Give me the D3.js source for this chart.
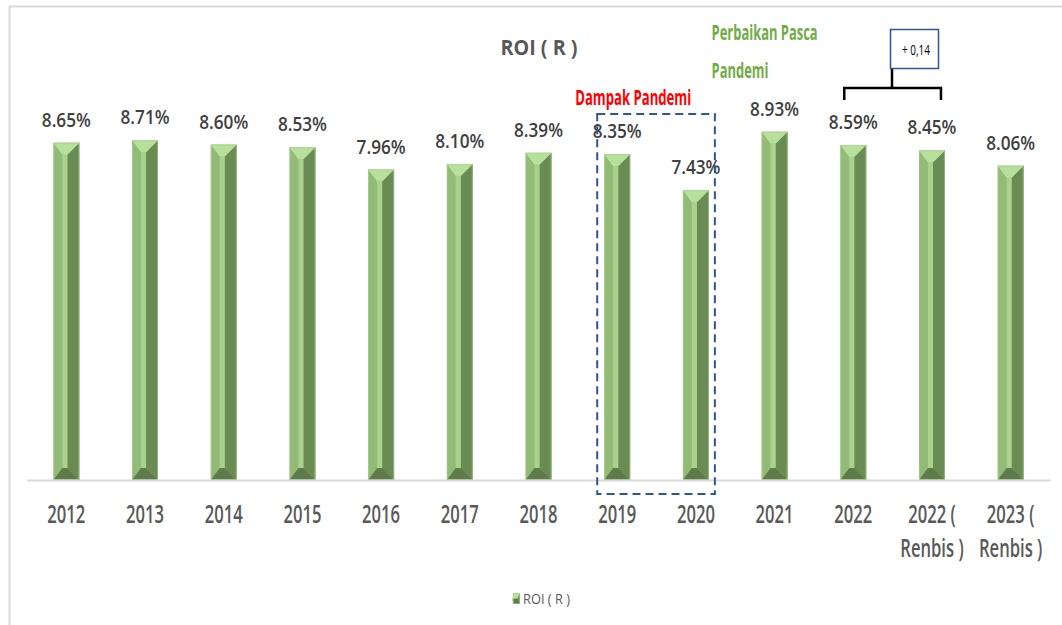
<!DOCTYPE html>
<html>
<head>
<meta charset="utf-8">
<script src="https://cdn.jsdelivr.net/npm/d3@7"></script>
<style>
  html, body { margin: 0; padding: 0; background: #fff; }
  svg { display: block; }
  text { font-family: "Open Sans", "DejaVu Sans Condensed", sans-serif; }
</style>
</head>
<body>
<div id="chart"></div>
<script>
const CATEGORIES = [
  "2012", "2013", "2014", "2015", "2016", "2017", "2018",
  "2019", "2020", "2021", "2022", "2022 ( Renbis )", "2023 ( Renbis )",
];
const ROI_VALUES = [8.65, 8.71, 8.6, 8.53, 7.96, 8.1, 8.39, 8.35, 7.43, 8.93, 8.59, 8.45, 8.06];
const VALUE_LABELS = ["8.65%", "8.71%", "8.60%", "8.53%", "7.96%", "8.10%", "8.39%", "8.35%", "7.43%", "8.93%", "8.59%", "8.45%", "8.06%"];
const TICK_LINES = {
  "2022 ( Renbis )": ["2022 (", "Renbis )"],
  "2023 ( Renbis )": ["2023 (", "Renbis )"],
};
const SERIES_NAME = "ROI ( R )";
const TITLE = "ROI ( R )";

const WIDTH = 1062;
const HEIGHT = 625;
const PLOT = { LEFT: 27, RIGHT: 1050, TOP: 90, BOTTOM: 480 };

const COLORS = {
  top: "#b6e09b",
  left: "#93bb77",
  stripe: "#a9d28d",
  right: "#6a8b54",
  bottom: "#5f7b4a",
};

const x = d3.scaleBand(CATEGORIES, [PLOT.LEFT, PLOT.RIGHT]).paddingInner(0.67).paddingOuter(0.335);
const y = d3.scaleLinear([0, 10], [PLOT.BOTTOM, PLOT.TOP]);

const svg = d3.select("#chart")
  .append("svg")
  .attr("width", WIDTH)
  .attr("height", HEIGHT);

// the source picture is squeezed horizontally, so text is condensed to match
const squeeze = (sel, k) =>
  sel.each(function () {
    const w = this.getComputedTextLength();
    d3.select(this).attr("textLength", w * k).attr("lengthAdjust", "spacingAndGlyphs");
  });

const factorFor = (sample, size, weight, target) => {
  const t = svg.append("text").attr("font-size", size).attr("font-weight", weight).text(sample);
  const w = t.node().getComputedTextLength();
  t.remove();
  return target / w;
};

// chart area frame (runs past the photo edge like the source)
svg.append("rect")
  .attr("x", 9.5).attr("y", 6.5)
  .attr("width", 1200).attr("height", 800)
  .attr("fill", "none")
  .attr("stroke", "#d9d9d9")
  .attr("stroke-width", 2);

svg.append("text")
  .attr("x", 539).attr("y", 55)
  .attr("text-anchor", "middle")
  .attr("font-size", 22)
  .attr("font-weight", "bold")
  .attr("fill", "#595959")
  .text(TITLE)
  .call(squeeze, factorFor(TITLE, 22, "bold", 77));

// bevelled bars, built from polygons
const drawBevelBar = (g, x0, w, yt, yb) => {
  const x1 = x0 + w;
  const xm = x0 + w * 0.5;
  const b = Math.min(12, (yb - yt) / 2);
  const pts = (arr) => arr.map((p) => p.join(",")).join(" ");
  g.append("rect").attr("x", x0).attr("y", yt).attr("width", w).attr("height", yb - yt).attr("fill", COLORS.left);
  g.append("polygon").attr("points", pts([[xm + 1, yt + b], [x1, yt], [x1, yb], [xm + 1, yb - b]])).attr("fill", COLORS.right);
  g.append("rect").attr("x", xm - 4).attr("y", yt + b).attr("width", 5).attr("height", yb - yt - 2 * b).attr("fill", COLORS.stripe);
  g.append("polygon").attr("points", pts([[x0, yb], [xm - 4, yb - b], [xm + 1, yb - b], [x1, yb]])).attr("fill", COLORS.bottom);
  g.append("polygon").attr("points", pts([[x0, yt], [x1, yt], [xm + 1, yt + b], [xm - 4, yt + b]])).attr("fill", COLORS.top);
  g.append("rect").attr("x", x0 + 0.5).attr("y", yt + 0.5).attr("width", w - 1).attr("height", yb - yt - 1)
    .attr("fill", "none").attr("stroke", "#a9cf8f").attr("stroke-opacity", 0.6);
};

const bars = svg.append("g");
CATEGORIES.forEach((c, i) => {
  drawBevelBar(bars.append("g"), x(c), x.bandwidth(), y(ROI_VALUES[i]), y(0));
});

const valueK = factorFor("8.65%", 20, "600", 49);
svg.append("g")
  .selectAll("text")
  .data(CATEGORIES)
  .join("text")
  .attr("x", (c) => x(c) + x.bandwidth() / 2)
  .attr("y", (c, i) => y(ROI_VALUES[i]) - 16)
  .attr("text-anchor", "middle")
  .attr("font-size", 20)
  .attr("font-weight", "600")
  .attr("fill", "#404040")
  .text((c, i) => VALUE_LABELS[i])
  .call(squeeze, valueK);

// x axis
const axisK = factorFor("2012", 25, "600", 38);
const xAxis = svg.append("g")
  .attr("transform", `translate(0, ${y(0)})`)
  .call(d3.axisBottom(x).tickSize(0).tickFormat(""));
xAxis.select(".domain")
  .attr("stroke", "#d9d9d9")
  .attr("stroke-width", 2);
xAxis.selectAll(".tick").each(function (c) {
  const lines = TICK_LINES[c] || [c];
  const g = d3.select(this);
  lines.forEach((l, k) =>
    g.append("text")
      .attr("y", 43 + k * 34)
      .attr("text-anchor", "middle")
      .attr("font-size", 25)
      .attr("font-weight", "600")
      .attr("fill", "#595959")
      .text(l)
      .call(squeeze, axisK)
  );
});

// "Dampak Pandemi" annotation
const boxLeft = x("2019") - 7;
const boxRight = x("2020") + x.bandwidth() + 6;
svg.append("rect")
  .attr("x", boxLeft).attr("y", 114)
  .attr("width", boxRight - boxLeft).attr("height", 380)
  .attr("fill", "none")
  .attr("stroke", "#2f5597")
  .attr("stroke-width", 2)
  .attr("stroke-dasharray", "8,5");
svg.append("text")
  .attr("x", boxLeft - 22).attr("y", 105)
  .attr("font-size", 21)
  .attr("font-weight", "bold")
  .attr("fill", "#ff0000")
  .text("Dampak Pandemi")
  .call(squeeze, factorFor("Dampak Pandemi", 21, "bold", 116));

// "Perbaikan Pasca Pandemi" annotation
const recoveryK = factorFor("Perbaikan Pasca", 22, "bold", 106);
["Perbaikan Pasca", "Pandemi"].forEach((l, k) =>
  svg.append("text")
    .attr("x", x("2021") - 50).attr("y", 40 + k * 38)
    .attr("font-size", 22)
    .attr("font-weight", "bold")
    .attr("fill", "#70ad47")
    .text(l)
    .call(squeeze, recoveryK)
);

// bracket between 2022 and 2022 (Renbis)
const bl = x("2022") + x.bandwidth() / 2 - 9;
const br = x("2022 ( Renbis )") + x.bandwidth() / 2 + 9;
svg.append("path")
  .attr("d", `M${bl},100 V88 H${br} V100 M892,88 V68`)
  .attr("fill", "none")
  .attr("stroke", "#000")
  .attr("stroke-width", 2.5);
svg.append("rect")
  .attr("x", 890.5).attr("y", 29.5)
  .attr("width", 48).attr("height", 39)
  .attr("fill", "#fff")
  .attr("stroke", "#2f5597")
  .attr("stroke-width", 1.5);
svg.append("text")
  .attr("x", 916).attr("y", 55)
  .attr("text-anchor", "middle")
  .attr("font-size", 14)
  .attr("fill", "#000")
  .text("+ 0,14")
  .call(squeeze, factorFor("+ 0,14", 14, "normal", 28));

// legend
const legend = svg.append("g").attr("transform", "translate(513, 593)");
drawBevelBar(legend, 0, 7, 0, 11);
legend.append("text")
  .attr("x", 10).attr("y", 11)
  .attr("font-size", 15)
  .attr("fill", "#595959")
  .text(SERIES_NAME)
  .call(squeeze, factorFor(SERIES_NAME, 15, "normal", 47));
</script>
</body>
</html>
